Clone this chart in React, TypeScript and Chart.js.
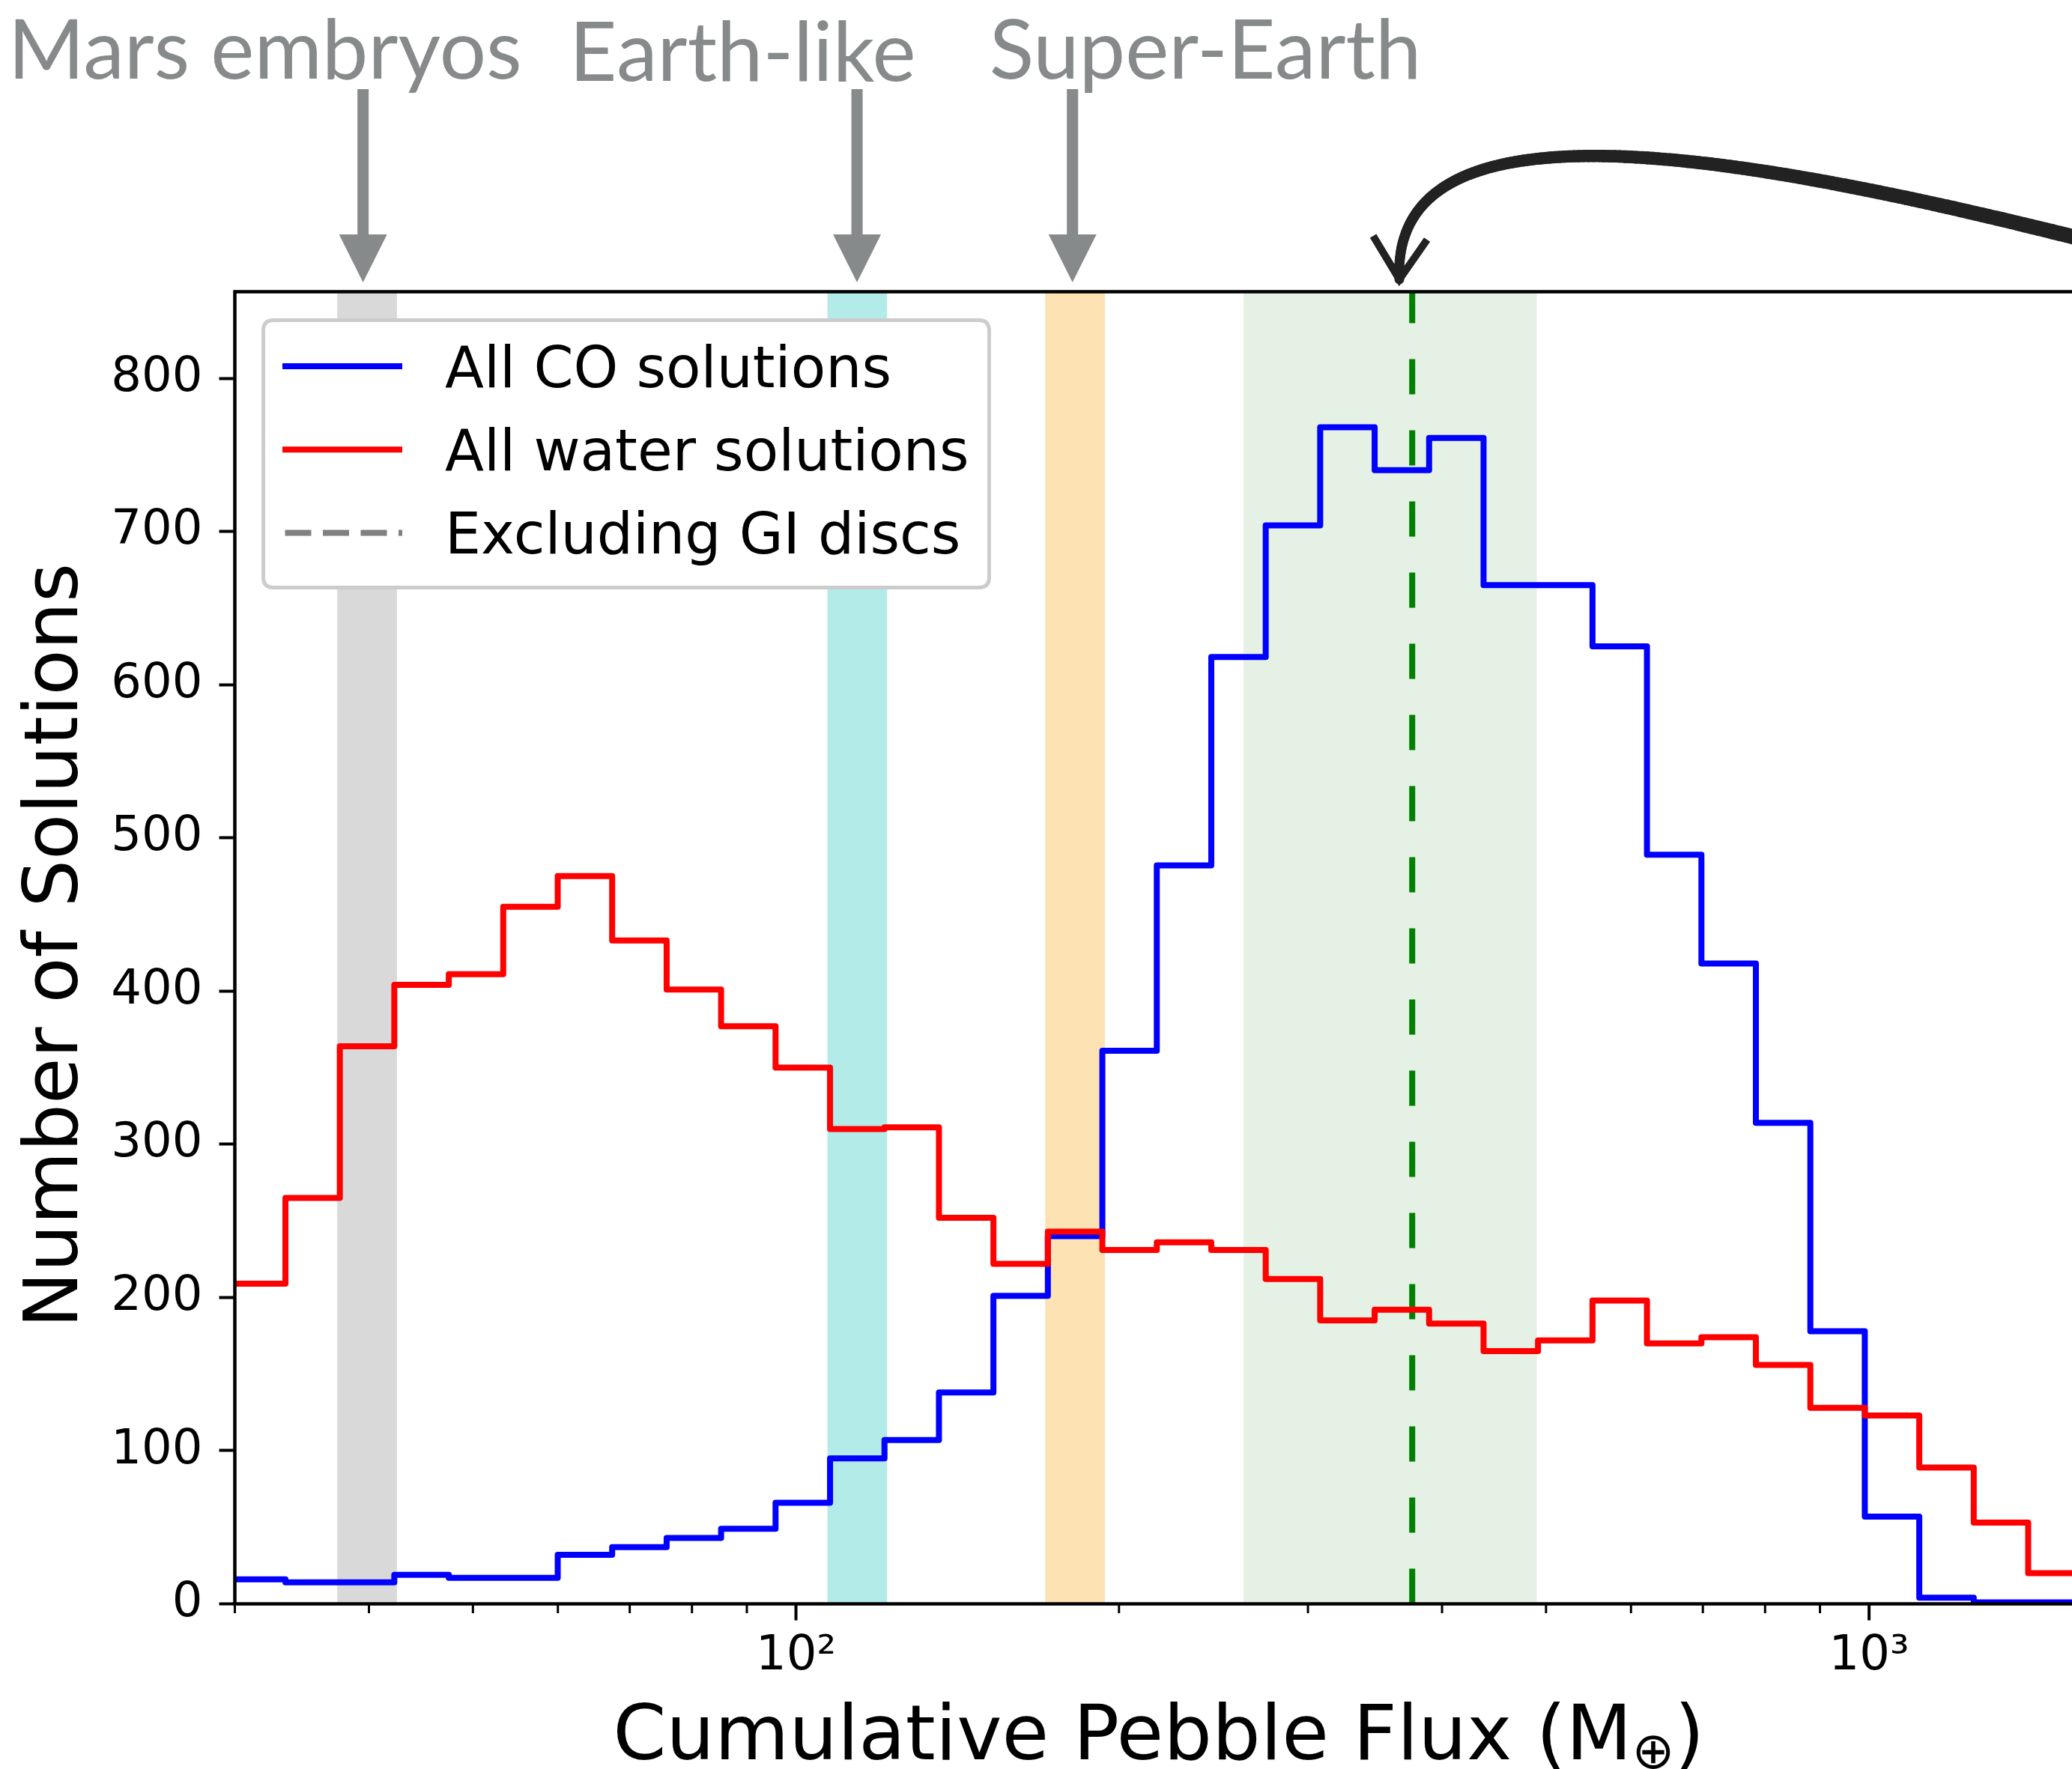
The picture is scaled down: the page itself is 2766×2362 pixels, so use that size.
import React, { useEffect, useRef } from 'react';
import { Chart, registerables } from 'chart.js';

Chart.register(...registerables);

const CANVAS_W = 2766;
const CANVAS_H = 2362;

// ---------------- data ----------------
const binEdges = [
  29.75, 33.44, 37.58, 42.24, 47.48, 53.36, 59.98, 67.41, 75.77, 85.16, 95.72,
  107.59, 120.92, 135.91, 152.76, 171.69, 192.98, 216.9, 243.79, 274.0, 307.97,
  346.15, 389.06, 437.28, 491.49, 552.41, 620.89, 697.86, 784.36, 881.59, 990.87,
  1113.7, 1251.8, 1406.9, 1581.3,
];
const coCounts = [
  16, 14, 14, 19, 17, 17, 32, 37, 43, 49, 66, 95, 107, 138, 201, 240, 361, 482,
  618, 704, 768, 740, 761, 665, 665, 625, 489, 418, 314, 178, 57, 4, 1, 1,
];
const waterCounts = [
  209, 265, 364, 404, 411, 455, 475, 433, 401, 377, 350, 310, 311, 252, 222, 243,
  231, 236, 231, 212, 185, 192, 183, 165, 172, 198, 170, 174, 156, 128, 123, 89,
  53, 20,
];
const xTickValues = [30, 40, 50, 60, 70, 80, 90, 100, 200, 300, 400, 500, 600, 700, 800, 900, 1000];
const xTickLabels: Record<number, string> = { 100: '10\u00B2', 1000: '10\u00B3' };
const xMajorTicks = [100, 1000];
const yTickStep = 100;
const xRange = [30, 1545.6];
const yRange = [0, 856.5];
const bandStarts = [37.37, 106.99, 170.7, 261.3];
const bandEnds = [42.48, 121.6, 194.1, 490.2];
const medianFlux = 375.2;
const regimeLabels = ['Mars embryos', 'Earth-like', 'Super-Earth'];
const regimeFlux = [39.5, 114, 181];
const highlightFlux = 365;
const seriesLabels = ['All CO solutions', 'All water solutions', 'Excluding GI discs'];
const xTitleParts = ['Cumulative Pebble Flux (M', '\u2295', ')'];
const yTitle = 'Number of Solutions';

// ---------------- styles ----------------
const bandColors = ['#d9d9d9', '#b3ebe9', '#fde3b3', '#e5f1e5'];
const seriesColors = ['#0000ff', '#ff0000', '#808080'];
const medianColor = '#008000';
const annotColor = '#868a8a';
const FONT = "'DejaVu Sans', sans-serif";

const stepData = (counts: number[]) => {
  const pts = counts.map((c, i) => ({ x: binEdges[i], y: c }));
  pts.push({ x: binEdges[counts.length], y: counts[counts.length - 1] });
  return pts;
};

const decorPlugin = {
  id: 'decor',
  beforeDraw(chart: any) {
    const { ctx, chartArea: a, scales } = chart;
    const x = scales.x;
    ctx.save();
    ctx.fillStyle = '#ffffff';
    ctx.fillRect(0, 0, chart.width, chart.height);
    bandStarts.forEach((s, i) => {
      const x0 = x.getPixelForValue(s);
      const x1 = x.getPixelForValue(bandEnds[i]);
      ctx.fillStyle = bandColors[i];
      ctx.fillRect(x0, a.top, x1 - x0, a.bottom - a.top);
    });
    ctx.restore();
  },
  afterDraw(chart: any) {
    const { ctx, chartArea: a, scales } = chart;
    const x = scales.x;
    ctx.save();

    // spines (left, top, bottom)
    ctx.strokeStyle = '#000';
    ctx.lineWidth = 4.5;
    ctx.lineJoin = 'miter';
    ctx.lineCap = 'butt';
    ctx.beginPath();
    ctx.moveTo(a.right + 10, a.top);
    ctx.lineTo(a.left, a.top);
    ctx.lineTo(a.left, a.bottom);
    ctx.lineTo(a.right + 10, a.bottom);
    ctx.stroke();

    // x ticks (major / minor)
    x.ticks.forEach((t: any) => {
      const px = x.getPixelForValue(t.value);
      const major = xMajorTicks.includes(t.value);
      ctx.lineWidth = major ? 4 : 3;
      ctx.beginPath();
      ctx.moveTo(px, a.bottom);
      ctx.lineTo(px, a.bottom + (major ? 22 : 12.5));
      ctx.stroke();
    });

    // axis titles
    ctx.fillStyle = '#000';
    ctx.textBaseline = 'alphabetic';
    ctx.font = `102px ${FONT}`;
    const w1 = ctx.measureText(xTitleParts[0]).width;
    const w3 = ctx.measureText(xTitleParts[2]).width;
    ctx.font = `68px ${FONT}`;
    const w2 = ctx.measureText(xTitleParts[1]).width;
    const total = w1 + w2 + w3;
    const cx = (a.left + a.right) / 2 + 7;
    const sx = cx - total / 2;
    const by = 2349;
    ctx.textAlign = 'left';
    ctx.font = `102px ${FONT}`;
    ctx.fillText(xTitleParts[0], sx, by);
    ctx.font = `68px ${FONT}`;
    ctx.fillText(xTitleParts[1], sx + w1, by + 12);
    ctx.font = `102px ${FONT}`;
    ctx.fillText(xTitleParts[2], sx + w1 + w2, by);

    ctx.save();
    ctx.translate(103, (a.top + a.bottom) / 2 - 3);
    ctx.rotate(-Math.PI / 2);
    ctx.textAlign = 'center';
    ctx.font = `100px ${FONT}`;
    ctx.fillText(yTitle, 0, 0);
    ctx.restore();

    // legend
    const lx = 351.5, ly = 427.5, lw = 969, lh = 357, r = 14;
    ctx.beginPath();
    ctx.moveTo(lx + r, ly);
    ctx.lineTo(lx + lw - r, ly);
    ctx.quadraticCurveTo(lx + lw, ly, lx + lw, ly + r);
    ctx.lineTo(lx + lw, ly + lh - r);
    ctx.quadraticCurveTo(lx + lw, ly + lh, lx + lw - r, ly + lh);
    ctx.lineTo(lx + r, ly + lh);
    ctx.quadraticCurveTo(lx, ly + lh, lx, ly + lh - r);
    ctx.lineTo(lx, ly + r);
    ctx.quadraticCurveTo(lx, ly, lx + r, ly);
    ctx.closePath();
    ctx.fillStyle = '#ffffff';
    ctx.fill();
    ctx.strokeStyle = '#cccccc';
    ctx.lineWidth = 5;
    ctx.stroke();

    const entries = chart.data.datasets.filter((d: any) => d.inLegend);
    entries.forEach((d: any, i: number) => {
      const cy = 489 + i * 111.3;
      ctx.strokeStyle = d.borderColor;
      ctx.lineWidth = 8;
      ctx.lineCap = 'butt';
      ctx.setLineDash(d.borderDash || []);
      ctx.beginPath();
      ctx.moveTo(d.borderDash ? 380.5 : 377, cy);
      ctx.lineTo(537, cy);
      ctx.stroke();
      ctx.setLineDash([]);
      ctx.fillStyle = '#000';
      ctx.font = `76px ${FONT}`;
      ctx.textAlign = 'left';
      ctx.textBaseline = 'alphabetic';
      ctx.fillText(d.label, 594, cy + 27.5);
    });

    // regime annotations (gray arrows + labels)
    const textOffsets = [-474, -384, -111];
    const textBaselines = [105, 108, 105];
    regimeFlux.forEach((v, i) => {
      const px = x.getPixelForValue(v);
      ctx.fillStyle = annotColor;
      ctx.fillRect(px - 7.5, 119, 15, 313 - 119 + 1);
      ctx.beginPath();
      ctx.moveTo(px - 32, 313);
      ctx.lineTo(px + 32, 313);
      ctx.lineTo(px, 377);
      ctx.closePath();
      ctx.fill();
      ctx.font = `110px Lato, 'Open Sans', sans-serif`;
      ctx.textAlign = 'left';
      ctx.textBaseline = 'alphabetic';
      ctx.fillText(regimeLabels[i], px + textOffsets[i], textBaselines[i]);
    });

    // curved black arrow
    const tx = x.getPixelForValue(highlightFlux);
    const ty = 373;
    const P = [
      [tx + 1032, ty - 23],
      [tx + 532, ty - 153],
      [tx - 13, ty - 273],
      [tx, ty],
    ];
    const bez = (t: number, k: number) => {
      const u = 1 - t;
      return u * u * u * P[0][k] + 3 * u * u * t * P[1][k] + 3 * u * t * t * P[2][k] + t * t * t * P[3][k];
    };
    ctx.strokeStyle = '#222222';
    ctx.lineCap = 'round';
    const N = 160;
    for (let i = 0; i < N; i++) {
      const t0 = i / N;
      const t1 = (i + 1) / N;
      ctx.lineWidth = 21 - 8 * t0;
      ctx.beginPath();
      ctx.moveTo(bez(t0, 0), bez(t0, 1));
      ctx.lineTo(bez(t1, 0), bez(t1, 1));
      ctx.stroke();
    }
    ctx.lineCap = 'butt';
    ctx.lineJoin = 'miter';
    ctx.lineWidth = 10;
    ctx.beginPath();
    ctx.moveTo(tx - 35, ty - 58);
    ctx.lineTo(tx, ty);
    ctx.lineTo(tx + 37, ty - 53);
    ctx.stroke();

    ctx.restore();
  },
};

export default function App() {
  const ref = useRef<HTMLCanvasElement>(null);

  useEffect(() => {
    document.body.style.margin = '0';
    const canvas = ref.current;
    if (!canvas) return;

    const chart = new Chart(canvas, {
      type: 'line',
      data: {
        datasets: [
          {
            label: seriesLabels[0],
            data: stepData(coCounts),
            borderColor: seriesColors[0],
            borderWidth: 8,
            stepped: 'before',
            pointRadius: 0,
            pointHoverRadius: 0,
            fill: false,
            borderJoinStyle: 'round',
            clip: 0,
            order: 2,
            inLegend: true,
          } as any,
          {
            label: seriesLabels[1],
            data: stepData(waterCounts),
            borderColor: seriesColors[1],
            borderWidth: 8,
            stepped: 'before',
            pointRadius: 0,
            pointHoverRadius: 0,
            fill: false,
            borderJoinStyle: 'round',
            clip: 0,
            order: 1,
            inLegend: true,
          } as any,
          {
            label: seriesLabels[2],
            data: [],
            borderColor: seriesColors[2],
            borderWidth: 8,
            borderDash: [35, 15.5],
            pointRadius: 0,
            order: 4,
            inLegend: true,
          } as any,
          {
            label: '',
            data: [
              { x: medianFlux, y: yRange[0] },
              { x: medianFlux, y: yRange[1] },
            ],
            borderColor: medianColor,
            borderWidth: 8,
            borderDash: [47, 48],
            borderCapStyle: 'butt',
            pointRadius: 0,
            pointHoverRadius: 0,
            fill: false,
            clip: 0,
            order: 3,
            inLegend: false,
          } as any,
        ],
      },
      options: {
        animation: false,
        responsive: false,
        devicePixelRatio: 1,
        events: [],
        layout: { padding: { top: 389.5, right: 0, bottom: 0, left: 0 } },
        plugins: {
          legend: { display: false },
          tooltip: { enabled: false },
          title: { display: false },
        },
        scales: {
          x: {
            type: 'logarithmic',
            min: xRange[0],
            max: xRange[1],
            afterBuildTicks: (scale: any) => {
              scale.ticks = xTickValues.map((v) => ({ value: v }));
            },
            afterFit: (scale: any) => {
              scale.height = CANVAS_H - 2141.5;
            },
            ticks: {
              autoSkip: false,
              maxRotation: 0,
              minRotation: 0,
              padding: 10,
              color: '#000',
              font: { family: FONT, size: 64 },
              callback: (value: any) => xTickLabels[Number(value)] || '',
            },
            grid: { display: false, drawTicks: true, tickLength: 22 },
            border: { display: false },
          },
          y: {
            type: 'linear',
            min: yRange[0],
            max: yRange[1],
            afterFit: (scale: any) => {
              scale.width = 313.5;
            },
            ticks: {
              stepSize: yTickStep,
              includeBounds: false,
              padding: 22,
              color: '#000',
              font: { family: FONT, size: 64 },
            },
            grid: {
              display: true,
              drawOnChartArea: false,
              drawTicks: true,
              tickLength: 21,
              tickWidth: 4,
              tickColor: '#000',
            },
            border: { display: false },
          },
        },
      } as any,
      plugins: [decorPlugin],
    });

    return () => chart.destroy();
  }, []);

  return (
    <div style={{ width: CANVAS_W, height: CANVAS_H, background: '#fff' }}>
      <canvas
        ref={ref}
        width={CANVAS_W}
        height={CANVAS_H}
        style={{ width: CANVAS_W, height: CANVAS_H, display: 'block' }}
      />
    </div>
  );
}
